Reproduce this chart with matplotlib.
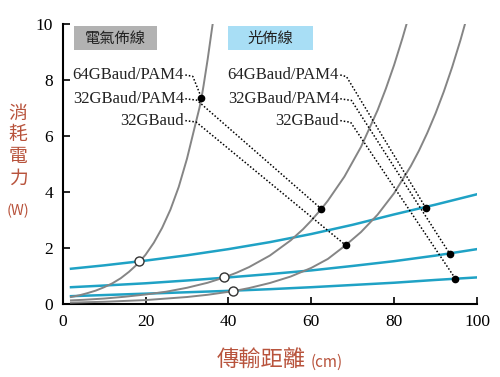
import matplotlib.pyplot as plt
from matplotlib.patches import Rectangle

# electrical wiring curves (gray)
elec_x1 = [2, 4, 6, 8, 10, 12, 14, 16, 18, 20, 22, 24, 26, 28, 30, 32, 33, 33.5, 34, 35, 36, 36.3]
elec_y1 = [0.25, 0.31, 0.39, 0.48, 0.6, 0.74, 0.92, 1.15, 1.42, 1.76, 2.19, 2.72, 3.37, 4.18,
           5.19, 6.4, 7.0, 7.36, 7.8, 8.75, 9.8, 10.1]
elec_x2 = [2, 5, 10, 15, 20, 25, 30, 35, 39, 42, 45, 50, 55, 58, 60, 62.4, 64, 68, 72, 76, 78,
           80, 82, 83]
elec_y2 = [0.13, 0.15, 0.195, 0.26, 0.34, 0.44, 0.58, 0.76, 0.95, 1.12, 1.32, 1.73, 2.27, 2.67,
           2.98, 3.39, 3.69, 4.55, 5.61, 6.92, 7.69, 8.54, 9.49, 10.0]
elec_x3 = [2, 10, 20, 30, 35, 41.2, 45, 50, 55, 60, 64, 68.3, 72, 76, 80, 84, 86, 88, 90, 92, 94,
           96, 97.1]
elec_y3 = [0.05, 0.08, 0.14, 0.25, 0.33, 0.46, 0.57, 0.75, 0.98, 1.29, 1.61, 2.1, 2.57, 3.19,
           3.96, 4.92, 5.48, 6.11, 6.81, 7.59, 8.46, 9.42, 10.0]

# optical wiring curves (blue)
opt_x = [2, 10, 20, 30, 40, 50, 60, 70, 80, 90, 100]
opt_y1 = [1.26, 1.38, 1.55, 1.74, 1.96, 2.21, 2.5, 2.83, 3.2, 3.55, 3.92]
opt_y2 = [0.6, 0.66, 0.74, 0.84, 0.95, 1.07, 1.2, 1.36, 1.53, 1.73, 1.96]
opt_y3 = [0.28, 0.32, 0.37, 0.42, 0.47, 0.53, 0.6, 0.68, 0.76, 0.86, 0.95]

# crossover points (open) and marked points (filled)
cross_x = [18.5, 39.0, 41.2]
cross_y = [1.52, 0.95, 0.47]
elec_pt_x = [33.5, 62.4, 68.3]
elec_pt_y = [7.36, 3.4, 2.1]
opt_pt_x = [87.6, 93.4, 94.8]
opt_pt_y = [3.44, 1.8, 0.9]

labels = ["64GBaud/PAM4", "32GBaud/PAM4", "32GBaud"]
label_y = [8.18, 7.33, 6.55]
elec_corner_x = [31.4, 32.4, 32.2]
opt_corner_x = [68.5, 69.7, 69.5]

red = "#b8533c"
gray = "#858585"
blue = "#1fa2c5"
cjk = ["Noto Sans CJK TC", "DejaVu Sans"]

plt.rcParams['font.family'] = ['Liberation Serif', 'Noto Sans CJK TC']

fig = plt.figure(figsize=(5.0, 3.77), dpi=100)
ax = fig.add_axes([0.1254, 0.1936, 0.8286, 0.7427])

for xs, ys in [(opt_x, opt_y1), (opt_x, opt_y2), (opt_x, opt_y3)]:
    ax.plot(xs, ys, color=blue, lw=1.8, zorder=2)
for xs, ys in [(elec_x1, elec_y1), (elec_x2, elec_y2), (elec_x3, elec_y3)]:
    ax.plot(xs, ys, color=gray, lw=1.4, zorder=3)

# dotted leaders from the labels to the points
for i in range(3):
    ax.plot([29.6, elec_corner_x[i], elec_pt_x[i]],
            [label_y[i], label_y[i] - 0.05, elec_pt_y[i]],
            color="black", lw=1.1, ls=(0, (1, 1.3)), zorder=4)
    ax.plot([67.0, opt_corner_x[i], opt_pt_x[i]],
            [label_y[i], label_y[i] - 0.06, opt_pt_y[i]],
            color="black", lw=1.1, ls=(0, (1, 1.3)), zorder=4)
    ax.text(29.3, label_y[i], labels[i], ha="right", va="center",
            fontsize=12, color="#222222")
    ax.text(66.7, label_y[i], labels[i], ha="right", va="center",
            fontsize=12, color="#222222")

ax.plot(elec_pt_x, elec_pt_y, "o", color="black", ms=4.5, zorder=5)
ax.plot(opt_pt_x, opt_pt_y, "o", color="black", ms=4.5, zorder=5)
ax.plot(cross_x, cross_y, "o", mfc="white", mec="#333333", mew=1.0, ms=6.5, zorder=5)

# category boxes
ax.add_patch(Rectangle((2.7, 9.06), 20.0, 0.86, facecolor="#b2b2b2", edgecolor="none",
                       zorder=1))
ax.text(12.7, 9.49, "電氣佈線", ha="center", va="center", fontsize=11,
        family=cjk, color="#222222")
ax.add_patch(Rectangle((40.0, 9.06), 20.5, 0.86, facecolor="#a8def5", edgecolor="none",
                       zorder=1))
ax.text(50.2, 9.49, "光佈線", ha="center", va="center", fontsize=11,
        family=cjk, color="#222222")

ax.set_xlim(0, 100)
ax.set_ylim(0, 10)
ax.set_xticks([0, 20, 40, 60, 80, 100])
ax.set_yticks([0, 2, 4, 6, 8, 10])
for s in ["top", "right"]:
    ax.spines[s].set_visible(False)
for s in ["left", "bottom"]:
    ax.spines[s].set_linewidth(1.5)
ax.tick_params(direction="in", length=5, width=1.2, labelsize=12.5, pad=7)
for lab in ax.get_xticklabels() + ax.get_yticklabels():
    lab.set_fontfamily("Liberation Serif")

# axis titles
fig.text(0.036, 0.728, "消\n耗\n電\n力", ha="center", va="top", fontsize=13.5,
         family=cjk, color=red, linespacing=1.05)
fig.text(0.036, 0.46, "(W)", ha="center", va="top", fontsize=10.5,
         family=cjk, color=red)
fig.text(0.612, 0.028, "傳輸距離", ha="right", va="baseline", fontsize=16,
         family=cjk, color=red)
fig.text(0.622, 0.028, "(cm)", ha="left", va="baseline", fontsize=11,
         family=cjk, color=red)

fig.savefig("out.png", dpi=100)
